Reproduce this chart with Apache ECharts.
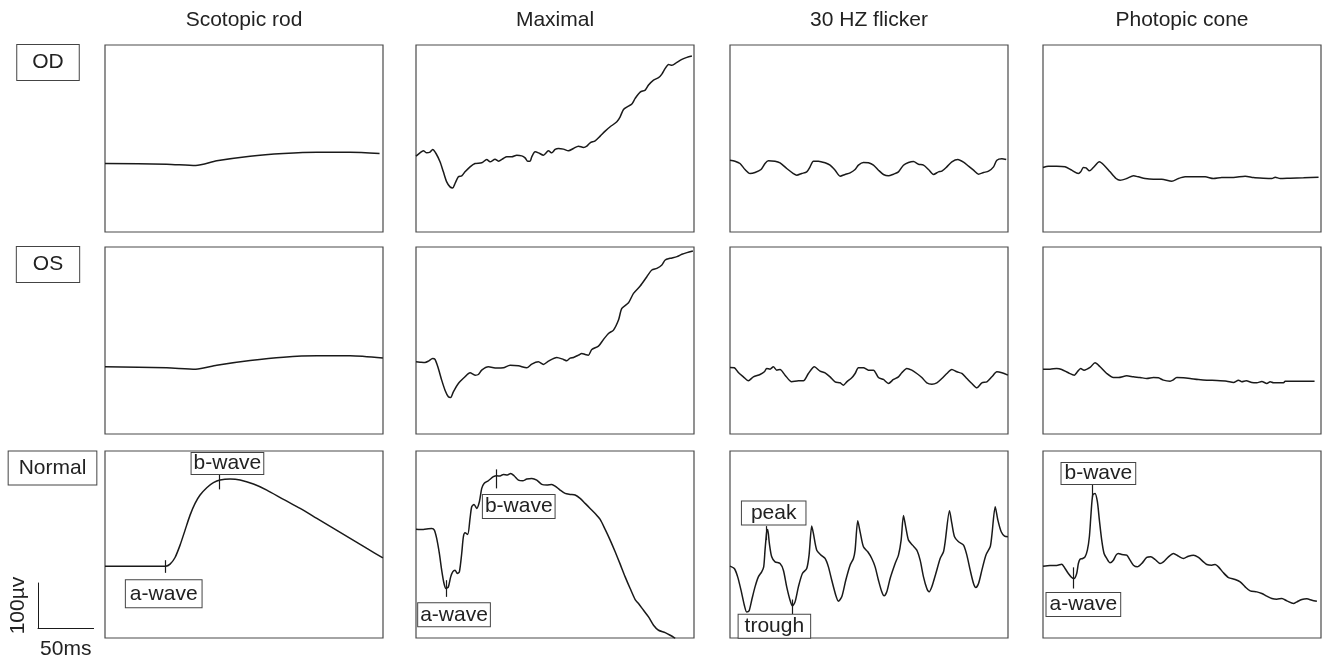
<!DOCTYPE html>
<html>
<head>
<meta charset="utf-8">
<title>ERG recordings</title>
<script src="https://cdn.jsdelivr.net/npm/echarts@6/dist/echarts.min.js"></script>
<style>
  html, body { margin: 0; padding: 0; background: #fff; }
  #chart { width: 1324px; height: 663px; }
</style>
</head>
<body>
<div id="chart"></div>
<script>
// time in ms, amplitude in µV (100µV / 50ms scale bar)
const columnTitles = ['Scotopic rod', 'Maximal', '30 HZ flicker', 'Photopic cone'];
const rowLabels = ['OD', 'OS', 'Normal'];

const odScotopic = [[0,-48],[55.5,-49.4],[81.6,-52.4],[100.5,-42],[130.5,-31.7],[160.5,-25.7],[190.5,-22.8],[220.5,-22.8],[246.9,-25.7]];
const osScotopic = [[0,-50.9],[55.5,-53.1],[81.6,-56.1],[100.5,-47.2],[130.5,-36.8],[160.5,-29.4],[190.5,-26.4],[220.5,-26.4],[249.9,-31.6]];
const normalScotopic = [[0,-40.6],[54.6,-40.6],[58.5,-36.1],[63,-21.3],[67.5,6.1],[72,39.4],[76.5,72.7],[81,98.7],[85.5,117.2],[91.5,133.5],[97.5,144.6],[103.5,150.5],[112.5,152.7],[121.5,150.5],[133.5,141.6],[145.5,128.3],[160.5,107.6],[175.5,87.6],[190.5,65.3],[205.5,43.1],[220.5,20.9],[235.5,-1.3],[249.9,-22.1]];

const odMaximal = [[0,-31.7],[3.6,-24.3],[6.6,-19.8],[9.6,-24.3],[12.6,-22.8],[15,-16.9],[18,-25.8],[21.6,-44.3],[24.6,-66.5],[27.6,-88.7],[30.6,-99.8],[33,-102.1],[35.1,-92.4],[38.1,-77.6],[41.1,-75.4],[44.1,-66.5],[48.6,-55.4],[53.1,-48],[59.1,-46.5],[63.6,-39.1],[66.6,-44.3],[71.1,-38.4],[74.1,-42.8],[78.6,-36.9],[81.6,-33.2],[86.1,-33.2],[90.6,-29.5],[95.1,-31],[98.1,-35.4],[100.5,-42.8],[102.6,-42.8],[104.1,-33.2],[107.1,-22.1],[110.1,-24.3],[114.6,-29.5],[119.1,-19.8],[122.1,-24.3],[125.1,-16.9],[128.1,-14.6],[132.6,-16.1],[137.1,-19.8],[141.6,-14.6],[146.1,-9.5],[150.6,-12.4],[153.6,-9.5],[156.6,-2],[161.1,2.4],[165.6,12.8],[170.1,23.9],[174.6,33.5],[180.6,44.6],[183.6,55.7],[186.6,72],[191.1,79.4],[194.1,83.9],[197.1,96.5],[201.6,110.5],[206.1,115],[209.1,126.1],[213.6,137.2],[218.1,142.4],[221.1,150.5],[224.1,163.1],[227.1,172],[230.1,169.8],[234.6,176.5],[239.1,183.1],[243.6,187.6],[248.1,190.5]];
const osMaximal = [[0,-39.8],[3.6,-40.5],[8.1,-41.2],[11.1,-38.3],[15,-32.4],[17.1,-34.6],[20.1,-54.6],[23.1,-80.5],[26.1,-102.7],[29.1,-117.5],[31.2,-119],[33.6,-106.4],[38.1,-87.9],[44.1,-73.1],[48.6,-64.2],[53.1,-69.4],[56.1,-67.9],[59.1,-58.3],[65.1,-50.9],[72.6,-53.8],[78.6,-53.1],[84.6,-47.2],[92.1,-48.6],[99.6,-53.1],[104.1,-44.9],[110.1,-39.8],[114.6,-45.7],[119.1,-38.3],[126.6,-30.1],[132.6,-34.6],[135.6,-37.5],[138.6,-31.6],[141.6,-30.1],[146.1,-25],[149.1,-21.2],[152.1,-23.5],[155.1,-25],[158.1,-12.4],[164.1,-5],[168.6,9.9],[173.1,23.2],[177.6,30.6],[182.1,52.8],[185.1,78.8],[191.1,91.3],[195.6,112.1],[201.6,128.4],[207.6,149.1],[212.1,163.9],[216.6,167.6],[221.1,175.1],[224.1,186.2],[228.6,189.9],[234.6,193.6],[239.1,198.8],[243.6,202.5],[249,206.2]];
const normalMaximal = [[0,41.6],[6.6,40.9],[11.1,42.4],[14.1,43.1],[16.5,39.4],[18.6,20.9],[21,-12.4],[23.1,-49.5],[25.2,-79.1],[27,-90.2],[29.1,-86.5],[31.2,-64.3],[33,-53.2],[35.1,-49.5],[37.2,-56.9],[39,-53.2],[41.1,-12.4],[42.6,24.6],[44.1,33.5],[46.5,29.8],[48.6,65.3],[50.1,91.3],[52.2,96.4],[54.6,87.6],[57,102.4],[59.1,132],[61.2,143.1],[65.1,149],[69.6,157.9],[72.6,160.1],[75.6,159.4],[78.6,163.1],[82.2,161.6],[85.2,165.3],[88.2,160.1],[92.1,150.5],[96,149],[99.6,152.7],[104.1,154.2],[108.6,150.5],[113.1,140.9],[117.6,139.4],[122.1,140.9],[125.1,137.2],[129.6,128.3],[134.1,120.9],[138.6,118.7],[143.1,117.2],[147.6,109.8],[152.1,98.7],[156.6,87.6],[161.1,76.4],[165.6,63.1],[170.1,40.9],[174.6,17.2],[179.1,-8.7],[183.6,-36.1],[188.1,-64.3],[192.6,-90.2],[197.1,-114.6],[200.1,-123.5],[204.6,-138.4],[209.1,-153.2],[213.6,-171.7],[218.1,-182.8],[224.1,-188],[228.6,-193.9],[233.1,-200.6]];

const odFlicker = [[0,-40.6],[4.5,-42.8],[9,-48],[13.5,-61.3],[18,-70.2],[22.5,-68],[27.9,-61.3],[31.5,-48],[34.5,-42.1],[40.5,-42.8],[45,-46.5],[51,-59.1],[57,-70.2],[60,-73.9],[64.5,-70.2],[69,-66.5],[72,-55.4],[75,-42.8],[79.5,-42.8],[85.5,-46.5],[90,-51.7],[94.5,-62.8],[99,-76.1],[103.5,-72.4],[108,-68.7],[112.5,-61.3],[115.5,-51.7],[120,-45.8],[124.5,-46.5],[129,-51.7],[133.5,-62.8],[138,-72.4],[142.5,-75.4],[147,-71.7],[151.5,-66.5],[156,-51.7],[160.5,-45.8],[165,-43.5],[169.5,-49.5],[174,-51.7],[178.5,-61.3],[183,-72.4],[187.5,-66.5],[190.5,-65],[195,-55.4],[199.5,-44.3],[204.9,-39.1],[210,-45],[214.5,-53.9],[219,-62.8],[223.5,-71.7],[228,-68],[232.5,-65],[237,-55.4],[240,-40.6],[244.5,-37.6],[248.4,-39.1]];
const osFlicker = [[0,-52.3],[3.9,-53.1],[7.5,-63.5],[12,-73.1],[16.5,-82],[21,-73.1],[27,-67.9],[30.9,-62],[33,-54.6],[36,-56.1],[39,-50.9],[42,-58.3],[45,-56.8],[49.5,-69.4],[55.5,-84.2],[61.5,-82],[66,-82],[70.5,-65.7],[75.9,-50.9],[81,-60.5],[85.5,-64.2],[90,-73.1],[94.5,-84.2],[99,-86.4],[102,-91.6],[105,-84.2],[109.5,-75.3],[112.5,-65.7],[115.5,-53.1],[120,-53.1],[124.5,-58.3],[129,-58.3],[133.5,-74.6],[138,-79],[142.5,-87.9],[147,-79],[151.5,-73.1],[154.5,-64.2],[159,-54.6],[163.5,-58.3],[168,-65.7],[172.5,-74.6],[177,-86.4],[181.5,-89.4],[186,-86.4],[190.5,-76.8],[195,-65.7],[199.5,-56.8],[204,-62],[208.5,-65.7],[213,-76.8],[217.5,-87.9],[222,-97.5],[226.5,-86.4],[231,-84.2],[235.5,-73.1],[240,-62],[244.5,-64.2],[249.9,-69.4]];
const normalFlicker = [[0,-40.6],[3.9,-45.8],[6.9,-64.3],[9.9,-93.9],[12.9,-127.2],[15,-142.1],[17.1,-139.9],[19.5,-116.1],[22.5,-86.5],[25.5,-64.3],[28.5,-53.2],[30.3,-42.1],[31.5,-5],[33,35.7],[33.9,40.9],[35.4,9.8],[37.5,-19.9],[40.5,-30.9],[45,-34.7],[48,-49.5],[51,-86.5],[54,-116.1],[56.1,-128.7],[58.5,-119.8],[61.5,-86.5],[65.1,-56.9],[69,-45.8],[71.1,-16.1],[73.5,48.3],[75,32],[78,-5],[81.9,-16.1],[85.5,-23.5],[88.5,-42.1],[91.5,-71.7],[95.1,-105],[97.5,-118.4],[100.5,-108.7],[104.1,-71.7],[108,-38.4],[111,-23.5],[112.5,-5],[114.9,60.1],[117,35.7],[120,2.4],[123.9,-8.7],[127.5,-23.5],[130.5,-42.1],[133.5,-71.7],[136.5,-97.6],[138.6,-106.5],[141,-97.6],[144,-68],[148.5,-34.7],[151.5,-16.1],[153.9,17.2],[156,72],[158.1,45.3],[160.5,17.2],[164.1,6.1],[168,-5],[171,-27.3],[174,-64.3],[177,-90.2],[179.1,-97.6],[181.5,-86.5],[185.1,-56.9],[189,-23.5],[192,-8.7],[193.5,13.5],[197.4,82.4],[199.5,54.2],[201.9,24.6],[205.5,13.5],[210,6.1],[213,-16.1],[216,-49.5],[219,-79.1],[221.1,-88],[223.5,-79.1],[226.5,-49.5],[230.1,-16.1],[234,2.4],[235.5,28.3],[238.5,91.3],[240.9,61.6],[243.9,35.7],[246.9,26.1],[249.9,24.6]];

const odPhotopic = [[0,-56.9],[4.8,-53.9],[12.3,-53.9],[19.8,-55.4],[25.8,-62.8],[31.8,-70.2],[33.9,-66.5],[36.3,-56.9],[38.7,-57.6],[41.7,-64.3],[45.3,-56.9],[50.7,-44.3],[54.9,-51.7],[60.3,-66.5],[65.7,-81.3],[69.3,-85],[75.3,-81.3],[81.3,-75.4],[85.8,-77.6],[91.8,-81.3],[99.3,-82.8],[106.8,-82.8],[115.8,-87.2],[121.8,-81.3],[127.8,-77.6],[135.3,-77.6],[145.8,-77.6],[153.3,-81.3],[160.8,-79.1],[171.3,-79.1],[181.8,-76.1],[189.3,-79.1],[198.3,-80.6],[205.8,-81.3],[208.8,-78.4],[213.3,-81.3],[222.3,-80.6],[234.3,-79.8],[247.8,-78.4]];
const osPhotopic = [[0,-56.1],[6.3,-56.1],[12.3,-54.6],[16.8,-56.8],[22.8,-64.2],[28.2,-69.4],[30.9,-62],[33.9,-54.6],[36.9,-58.3],[42.3,-52.3],[46.8,-42],[51.3,-50.9],[57.3,-65.7],[63.3,-74.6],[67.8,-74.6],[75.3,-70.9],[81.3,-73.1],[87.3,-74.6],[93.3,-76.8],[99.3,-74.6],[103.8,-75.3],[108.3,-80.5],[114.3,-82.7],[116.7,-80.5],[120.3,-74.6],[126.3,-75.3],[132.3,-76.8],[139.8,-79],[147.3,-80.5],[156.3,-81.2],[165.3,-82.7],[171.3,-85.7],[175.8,-80.5],[178.8,-84.2],[182.7,-82],[187.8,-85.7],[192.3,-86.4],[196.8,-83.5],[201.3,-87.9],[204.3,-84.2],[207.3,-86.4],[216.3,-86.4],[217.8,-82.7],[228.3,-82.7],[244.2,-82.7]];
const normalPhotopic = [[0,-40.6],[6.3,-39.1],[12.3,-39.1],[16.8,-36.1],[19.8,-45.8],[22.8,-56.9],[25.8,-65.8],[27.9,-68],[30.3,-56.9],[31.8,-34.7],[33.3,-25],[35.7,-23.5],[37.8,-19.9],[39.9,-5],[41.7,24.6],[43.2,76.4],[44.7,117.2],[46.8,120.9],[48.9,102.4],[50.7,61.6],[52.8,17.2],[54.9,-12.4],[57.3,-23.5],[60.3,-33.2],[63.3,-27.3],[65.7,-16.1],[67.8,-12.4],[70.8,-14.7],[75.3,-16.1],[78.3,-27.3],[81.3,-38.4],[84.9,-42.1],[88.8,-34.7],[93.3,-21.3],[96.9,-19.9],[100.8,-25.8],[105.3,-34.7],[108.3,-31],[112.8,-19.9],[117.3,-12.4],[121.8,-18.4],[126.3,-23.5],[130.8,-18.4],[135.3,-16.1],[139.8,-21.3],[144.3,-31],[147.3,-36.9],[151.8,-38.4],[154.8,-36.9],[157.8,-42.1],[162.3,-55.4],[166.8,-65.8],[172.8,-70.2],[177.3,-75.4],[181.8,-86.5],[186.3,-95.4],[192.3,-97.6],[196.8,-101.3],[201.3,-107.2],[205.8,-112.4],[210.3,-113.9],[214.8,-112.4],[219.3,-117.6],[225.3,-123.5],[228.3,-119.8],[232.8,-114.6],[237.3,-113.1],[241.8,-116.1],[246.3,-118.4]];

// markers on the normal traces: time, start and end of the tick (label sits at the end)
const scotopicMarkers = [{name:'a-wave', t:54.6, from:-27.3, to:-55.4}, {name:'b-wave', t:102.9, from:129.8, to:165.3}];
const maximalMarkers = [{name:'a-wave', t:27, from:-71.7, to:-108.7}, {name:'b-wave', t:72.6, from:174.2, to:132}];
const flickerMarkers = [{name:'peak', t:33, from:17.2, to:48.3}, {name:'trough', t:56.1, from:-114.6, to:-149.5}];
const photopicMarkers = [{name:'a-wave', t:27.3, from:-43.2, to:-90.2}, {name:'b-wave', t:44.4, from:113.5, to:143.1}];

const FONT = '"Liberation Sans", Arial, Helvetica, sans-serif';
const panelLeft = [105, 416, 730, 1043];
const panelTop = [45, 247, 451];
const panelW = 278, panelH = 187;

const traces = [
  [odScotopic, odMaximal, odFlicker, odPhotopic],
  [osScotopic, osMaximal, osFlicker, osPhotopic],
  [normalScotopic, normalMaximal, normalFlicker, normalPhotopic]
];
const normalMarkers = [scotopicMarkers, maximalMarkers, flickerMarkers, photopicMarkers];
// label box offset (px from tick end) and padding
const markerLabelLayout = [
  [{offset:[-2,21], padding:[3,4]}, {offset:[8,-10], padding:[0,2]}],
  [{offset:[8,18], padding:[1,2]}, {offset:[22,18], padding:[1,2]}],
  [{offset:[7,-13], padding:[1,9]}, {offset:[-18,11], padding:[1,6]}],
  [{offset:[10,16], padding:[1,3]}, {offset:[6,-10], padding:[0,3]}]
];

const grid = [], xAxis = [], yAxis = [], series = [];
traces.forEach((row, r) => {
  row.forEach((data, c) => {
    const i = grid.length;
    grid.push({left: panelLeft[c], top: panelTop[r], width: panelW, height: panelH,
      show: true, borderColor: '#4a4a4a', borderWidth: 1.2, backgroundColor: 'transparent'});
    xAxis.push({type: 'value', gridIndex: i, min: 0, max: 250, show: false});
    yAxis.push({type: 'value', gridIndex: i, min: -200, max: 215, show: false});
    const s = {
      type: 'line', xAxisIndex: i, yAxisIndex: i, data: data,
      showSymbol: false, smooth: 0.25, clip: true, silent: true,
      lineStyle: {color: '#1a1a1a', width: 1.5}
    };
    if (r === 2) {
      const marks = normalMarkers[c];
      s.markLine = {
        silent: true, symbol: ['none', 'none'],
        lineStyle: {color: '#1a1a1a', width: 1.2, type: 'solid'},
        label: {show: false},
        data: marks.map(m => [{coord: [m.t, m.from]}, {coord: [m.t, m.to]}])
      };
      s.markPoint = {
        silent: true, symbol: 'rect', symbolSize: 1,
        itemStyle: {color: 'rgba(0,0,0,0)'},
        label: {
          show: true, position: 'inside', formatter: '{b}',
          color: '#222', fontSize: 21, fontFamily: FONT,
          backgroundColor: '#fff', borderColor: '#444', borderWidth: 1
        },
        data: marks.map((m, k) => ({
          name: m.name, coord: [m.t, m.to],
          label: {offset: markerLabelLayout[c][k].offset, padding: markerLabelLayout[c][k].padding}
        }))
      };
    }
    series.push(s);
  });
});

// scale bar: 50ms x 100µV drawn as its own axes pair
const sb = grid.length;
grid.push({left: 38, top: 583, width: 55.6, height: 45, show: false});
xAxis.push({type: 'value', gridIndex: sb, min: 0, max: 50,
  axisLine: {show: true, lineStyle: {color: '#1a1a1a', width: 1}},
  axisTick: {show: false}, axisLabel: {show: false}, splitLine: {show: false},
  name: '50ms', nameLocation: 'middle', nameGap: 11,
  nameTextStyle: {fontSize: 21, fontFamily: FONT, color: '#222'}});
yAxis.push({type: 'value', gridIndex: sb, min: 0, max: 100,
  axisLine: {show: true, lineStyle: {color: '#1a1a1a', width: 1}},
  axisTick: {show: false}, axisLabel: {show: false}, splitLine: {show: false},
  name: '100µv', nameLocation: 'middle', nameGap: 9,
  nameTextStyle: {fontSize: 21, fontFamily: FONT, color: '#222'}});

const graphic = [];
columnTitles.forEach((t, c) => {
  graphic.push({type: 'text', x: panelLeft[c] + panelW / 2, y: 20,
    style: {text: t, font: '21px ' + FONT, fill: '#222',
      align: 'center', verticalAlign: 'middle', textAlign: 'center', textVerticalAlign: 'middle'}});
});
const rowLabelCenter = [[48, 62.5], [48, 264.5], [52.5, 468]];
const rowLabelPadding = [[7, 15], [7, 16], [6, 10]];
rowLabels.forEach((t, r) => {
  graphic.push({type: 'text', x: rowLabelCenter[r][0], y: rowLabelCenter[r][1],
    style: {text: t, font: '21px ' + FONT, fill: '#222',
      align: 'center', verticalAlign: 'middle', textAlign: 'center', textVerticalAlign: 'middle',
      backgroundColor: '#fff', borderColor: '#444', borderWidth: 1, padding: rowLabelPadding[r]}});
});

const chart = echarts.init(document.getElementById('chart'));
chart.setOption({
  animation: false,
  backgroundColor: '#fff',
  grid: grid, xAxis: xAxis, yAxis: yAxis, series: series, graphic: graphic
});
</script>
</body>
</html>
